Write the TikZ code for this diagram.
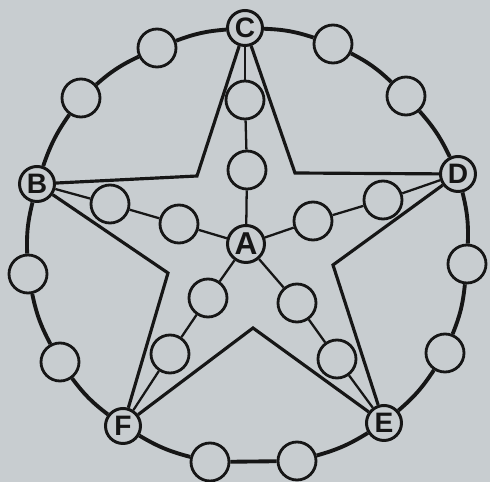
\documentclass[tikz,border=0pt]{standalone}
\usepackage{fontspec}
\setmainfont{Liberation Sans}
\usetikzlibrary{positioning}
\definecolor{paper}{RGB}{200,205,208}
\definecolor{ink}{RGB}{22,22,22}

\begin{document}
\begin{tikzpicture}[
    lab/.style={draw=ink, circle, line width=1.7pt, minimum size=0.70cm, inner sep=0pt, font=\fontsize{16}{16}\selectfont\bfseries, text=ink},
    bead/.style={draw=ink, circle, line width=1.6pt, minimum size=0.76cm, inner sep=0pt},
    ring/.style={ink, line width=2.2pt, bend left=8},
    spoke/.style={ink, line width=1.3pt},
    star/.style={ink, line width=1.8pt, line join=miter}
  ]
    \fill[paper] (0,0) rectangle (9.8,9.64);
    \useasboundingbox (0,0) rectangle (9.8,9.64);

    % lettered points
    \node[lab] (C) at (4.90,9.08) {C};
    \node[lab] (D) at (9.16,6.16) {D};
    \node[lab] (E) at (7.68,1.18) {E};
    \node[lab] (F) at (2.46,1.12) {F};
    \node[lab] (B) at (0.74,5.96) {B};
    \node[lab, minimum size=0.74cm, font=\fontsize{18}{18}\selectfont\bfseries] (A) at (4.92,4.76) {A};

    % beads on the ring
    \node[bead] (r1) at (6.66,8.76) {};
    \node[bead] (r2) at (8.12,7.72) {};
    \node[bead] (r3) at (9.34,4.36) {};
    \node[bead] (r4) at (8.90,2.58) {};
    \node[bead] (r5) at (5.94,0.42) {};
    \node[bead] (r6) at (4.20,0.40) {};
    \node[bead] (r7) at (1.20,2.40) {};
    \node[bead] (r8) at (0.56,4.16) {};
    \node[bead] (r9) at (1.62,7.68) {};
    \node[bead] (r10) at (3.14,8.68) {};

    % beads on the spokes
    \node[bead] (c1) at (4.94,6.24) {};
    \node[bead] (c2) at (4.90,7.64) {};
    \node[bead] (d1) at (6.26,5.22) {};
    \node[bead] (d2) at (7.66,5.64) {};
    \node[bead] (e1) at (5.94,3.58) {};
    \node[bead] (e2) at (6.74,2.46) {};
    \node[bead] (f1) at (4.16,3.68) {};
    \node[bead] (f2) at (3.40,2.56) {};
    \node[bead] (b1) at (3.58,5.16) {};
    \node[bead] (b2) at (2.20,5.56) {};

    % inner corners of the star
    \coordinate (iCD) at (5.90,6.18);
    \coordinate (iDE) at (6.66,4.34);
    \coordinate (iEF) at (5.06,3.08);
    \coordinate (iFB) at (3.36,4.18);
    \coordinate (iBC) at (3.94,6.12);

    % ring
    \draw[ring] (C) to (r1);
    \draw[ring] (r1) to (r2);
    \draw[ring] (r2) to (D);
    \draw[ring] (D) to (r3);
    \draw[ring] (r3) to (r4);
    \draw[ring] (r4) to (E);
    \draw[ring] (E) to (r5);
    \draw[ring, bend left=0] (r5) to (r6);
    \draw[ring] (r6) to (F);
    \draw[ring] (F) to (r7);
    \draw[ring] (r7) to (r8);
    \draw[ring] (r8) to (B);
    \draw[ring] (B) to (r9);
    \draw[ring] (r9) to (r10);
    \draw[ring] (r10) to (C);

    % star
    \draw[star] (C) -- (iCD) -- (D);
    \draw[star] (D) -- (iDE) -- (E);
    \draw[star] (E) -- (iEF) -- (F);
    \draw[star] (F) -- (iFB) -- (B);
    \draw[star] (B) -- (iBC) -- (C);

    % spokes
    \draw[spoke] (A) -- (c1);
    \draw[spoke] (c1) -- (c2);
    \draw[spoke] (c2) -- (C);
    \draw[spoke] (A) -- (d1);
    \draw[spoke] (d1) -- (d2);
    \draw[spoke] (d2) -- (D);
    \draw[spoke] (A) -- (e1);
    \draw[spoke] (e1) -- (e2);
    \draw[spoke] (e2) -- (E);
    \draw[spoke] (A) -- (f1);
    \draw[spoke] (f1) -- (f2);
    \draw[spoke] (f2) -- (F);
    \draw[spoke] (A) -- (b1);
    \draw[spoke] (b1) -- (b2);
    \draw[spoke] (b2) -- (B);
  \end{tikzpicture}
\end{document}
